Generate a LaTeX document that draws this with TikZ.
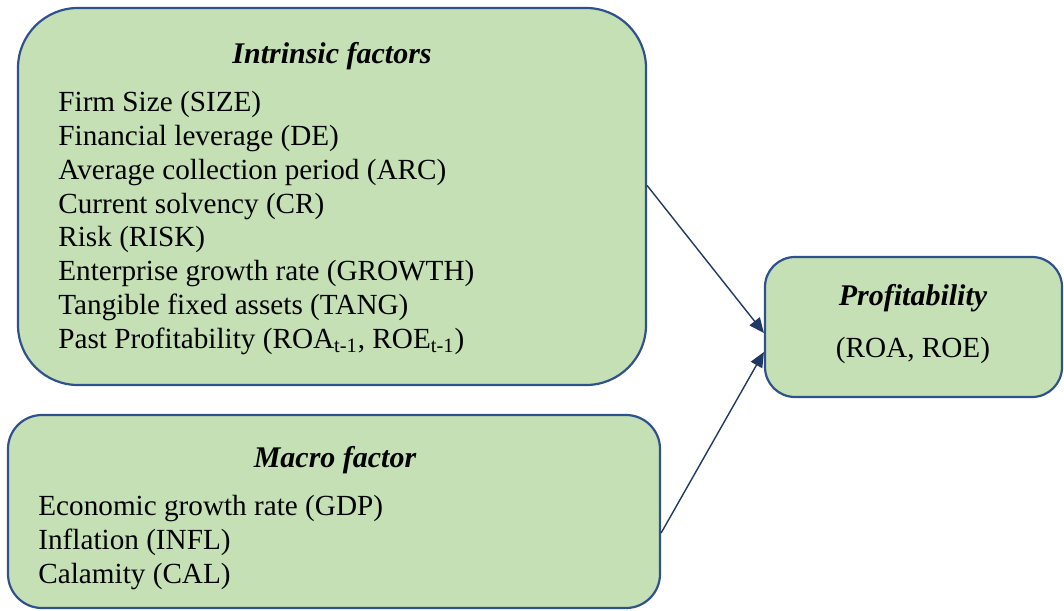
\documentclass[tikz,border=0pt]{standalone}
\usepackage{fontspec}
\setmainfont{Liberation Serif}
\usepackage{xcolor}
\usepackage{tikz}
\usetikzlibrary{arrows.meta,calc}
\definecolor{boxfill}{HTML}{C5E0B4}
\definecolor{boxline}{HTML}{2F528F}
\definecolor{arrowline}{HTML}{203864}
\tikzset{
    factorbox/.style={draw=boxline, fill=boxfill, line width=1.1pt, inner sep=0pt},
    headtext/.style={font=\fontsize{15}{17}\selectfont\bfseries\itshape, inner sep=0pt},
    listtext/.style={font=\fontsize{14.6}{16.9}\selectfont, align=left, anchor=north west, inner sep=0pt},
    flow/.style={draw=arrowline, line width=0.7pt, -{Triangle[length=7.5pt,width=6.5pt]}}
}
\begin{document}
\begin{tikzpicture}[x={(0.5pt,0)}, y={(0,-0.5pt)}]
    \useasboundingbox (0,0) rectangle (1064,610);
    % boxes
    \node[factorbox, rounded corners=30pt, minimum width=314pt, minimum height=188.5pt] (intrinsic) at (332,196.5) {};
    \node[factorbox, rounded corners=17pt, minimum width=326pt, minimum height=96.5pt] (macro) at (334,511.5) {};
    \node[factorbox, rounded corners=15pt, minimum width=148.5pt, minimum height=70pt] (profit) at (913.5,327) {};
    % texts
    \node[headtext] (intrinsichead) at (332,56) {Intrinsic factors};
    \node[listtext] (intrinsiclist) at (58,91) {Firm Size (SIZE)\\
        Financial leverage (DE)\\
        Average collection period (ARC)\\
        Current solvency (CR)\\
        Risk (RISK)\\
        Enterprise growth rate (GROWTH)\\
        Tangible fixed assets (TANG)\\
        Past Profitability (ROA\textsubscript{t-1}, ROE\textsubscript{t-1})};
    \node[headtext] (macrohead) at (335,460) {Macro factor};
    \node[listtext] (macrolist) at (38,495) {Economic growth rate (GDP)\\
        Inflation (INFL)\\
        Calamity (CAL)};
    \node[headtext] (profithead) at (913,298) {Profitability};
    \node[font=\fontsize{14.6}{17}\selectfont, inner sep=0pt] (profitvars) at (913,350) {(ROA, ROE)};
    % arrows
    \draw[flow] ([yshift=5.5pt]intrinsic.east) -- ([yshift=-3pt]profit.west);
    \draw[flow] ([yshift=-10.75pt]macro.east) -- ([yshift=-12.5pt]profit.west);
\end{tikzpicture}
\end{document}
